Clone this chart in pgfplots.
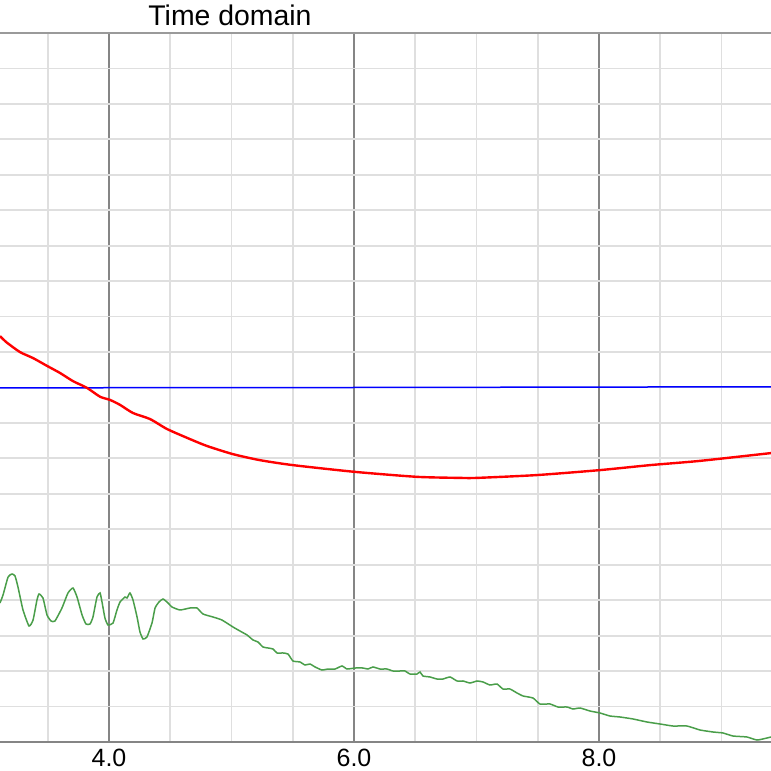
\documentclass[border=0pt]{standalone}
\usepackage{fontspec}
\setmainfont{Liberation Sans}
\usepackage{pgfplots}
\pgfplotsset{compat=1.18}
\definecolor{gridlight}{HTML}{DFDFDF}
\definecolor{griddark}{HTML}{858585}
\definecolor{axgray}{HTML}{9A9A9A}
\definecolor{sgreen}{HTML}{4A9E4A}
\begin{document}
\begin{tikzpicture}
\begin{axis}[
  name=ax,
  scale only axis,
  width=385.5pt, height=354.5pt,
  xmin=3.1102, xmax=9.404,
  ymin=0, ymax=20,
  xtick={4,6,8},
  minor xtick={3.5,4.5,5,5.5,6.5,7,7.5,8.5,9},
  ytick=\empty,
  extra y ticks={1,2,...,19},
  extra y tick labels={},
  extra y tick style={grid=major, major grid style={gridlight, line width=0.9pt}},
  xmajorgrids, xminorgrids,
  major grid style={griddark, line width=0.6pt},
  minor grid style={gridlight, line width=0.9pt},
  major tick length=0pt, minor tick length=0pt,
  axis line style={draw=none},
  xticklabel style={font=\fontsize{12.5}{14}\selectfont},
  /pgf/number format/assume math mode=true,
  xticklabel={\pgfmathprintnumber[fixed,fixed zerofill,precision=1]{\tick}},
  every axis title shift=0pt,
  title={Time domain},
  title style={at={(rel axis cs:0.2983,1)}, anchor=base, yshift=3.5pt, font=\fontsize{14.2}{16}\selectfont},
  clip=false,
]
\addplot[blue, line width=0.75pt] coordinates {(3.110,9.99) (6.0,10.0) (9.404,10.02)};
\addplot[red, line width=1.2pt, smooth, tension=0.4] coordinates {
(3.110,11.45) (3.165,11.27) (3.273,11.00) (3.380,10.83) (3.494,10.61) (3.600,10.41)
(3.706,10.18) (3.820,9.99) (3.927,9.74) (4.008,9.65) (4.090,9.51) (4.196,9.28)
(4.335,9.11) (4.473,8.83) (4.637,8.58) (4.800,8.35) (5.012,8.12) (5.233,7.95)
(5.502,7.81) (6.008,7.62) (6.514,7.48) (6.865,7.45) (7.004,7.45) (7.494,7.53)
(8.008,7.67) (8.416,7.81) (8.824,7.93) (9.404,8.15)};
\addplot[sgreen, line width=0.75pt, smooth, tension=0.3] coordinates {
(3.110,3.921) (3.135,4.147) (3.176,4.654) (3.208,4.739) (3.233,4.683) (3.257,4.372)
(3.298,3.724) (3.347,3.272) (3.380,3.441) (3.412,4.006) (3.429,4.175) (3.461,4.062)
(3.494,3.583) (3.527,3.413) (3.559,3.413) (3.616,3.780) (3.665,4.203) (3.706,4.344)
(3.739,4.090) (3.780,3.583) (3.812,3.329) (3.845,3.329) (3.869,3.526) (3.902,4.090)
(3.927,4.203) (3.943,3.949) (3.967,3.498) (3.992,3.300) (4.033,3.357) (4.065,3.724)
(4.090,3.949) (4.131,4.090) (4.147,4.062) (4.171,4.203) (4.196,4.006) (4.229,3.526)
(4.253,3.103) (4.278,2.906) (4.310,2.962) (4.351,3.357) (4.376,3.780) (4.408,3.949)
(4.441,4.034) (4.482,3.921) (4.514,3.808) (4.580,3.724) (4.661,3.780) (4.718,3.780)
(4.767,3.611) (4.849,3.526) (4.922,3.441) (5.012,3.244) (5.069,3.131) (5.127,3.018)
(5.176,2.877) (5.216,2.821) (5.257,2.680) (5.298,2.652) (5.339,2.623) (5.371,2.511)
(5.420,2.511) (5.461,2.482) (5.502,2.285) (5.559,2.257) (5.600,2.172) (5.641,2.200)
(5.682,2.116) (5.739,2.031) (5.788,2.059) (5.845,2.059) (5.902,2.144) (5.943,2.059)
(6.008,2.087) (6.074,2.087) (6.114,2.059) (6.155,2.116) (6.212,2.059) (6.269,2.059)
(6.318,2.003) (6.376,2.003) (6.416,2.003) (6.457,1.918) (6.514,1.918) (6.539,1.975)
(6.563,1.862) (6.620,1.834) (6.677,1.777) (6.726,1.777) (6.784,1.834) (6.841,1.721)
(6.890,1.721) (6.947,1.664) (7.004,1.721) (7.053,1.693) (7.110,1.608) (7.167,1.636)
(7.216,1.495) (7.273,1.495) (7.331,1.382) (7.380,1.298) (7.461,1.241) (7.518,1.072)
(7.600,1.072) (7.665,0.987) (7.739,0.987) (7.788,0.931) (7.845,0.959) (7.927,0.874)
(8.008,0.818) (8.090,0.733) (8.172,0.705) (8.278,0.649) (8.392,0.564) (8.498,0.508)
(8.604,0.451) (8.718,0.451) (8.824,0.339) (8.931,0.282) (9.012,0.254) (9.094,0.169)
(9.208,0.141) (9.290,0.056) (9.371,0.113) (9.404,0.141)};
\end{axis}
\draw[axgray, line width=1pt] (ax.north west) -- (ax.north east);
\draw[griddark, line width=0.8pt] (ax.south west) -- (ax.south east);
\pgfresetboundingbox
\path[use as bounding box] ([yshift=-14.5pt]ax.south west) rectangle ([yshift=16.5pt]ax.north east);
\end{tikzpicture}
\end{document}
